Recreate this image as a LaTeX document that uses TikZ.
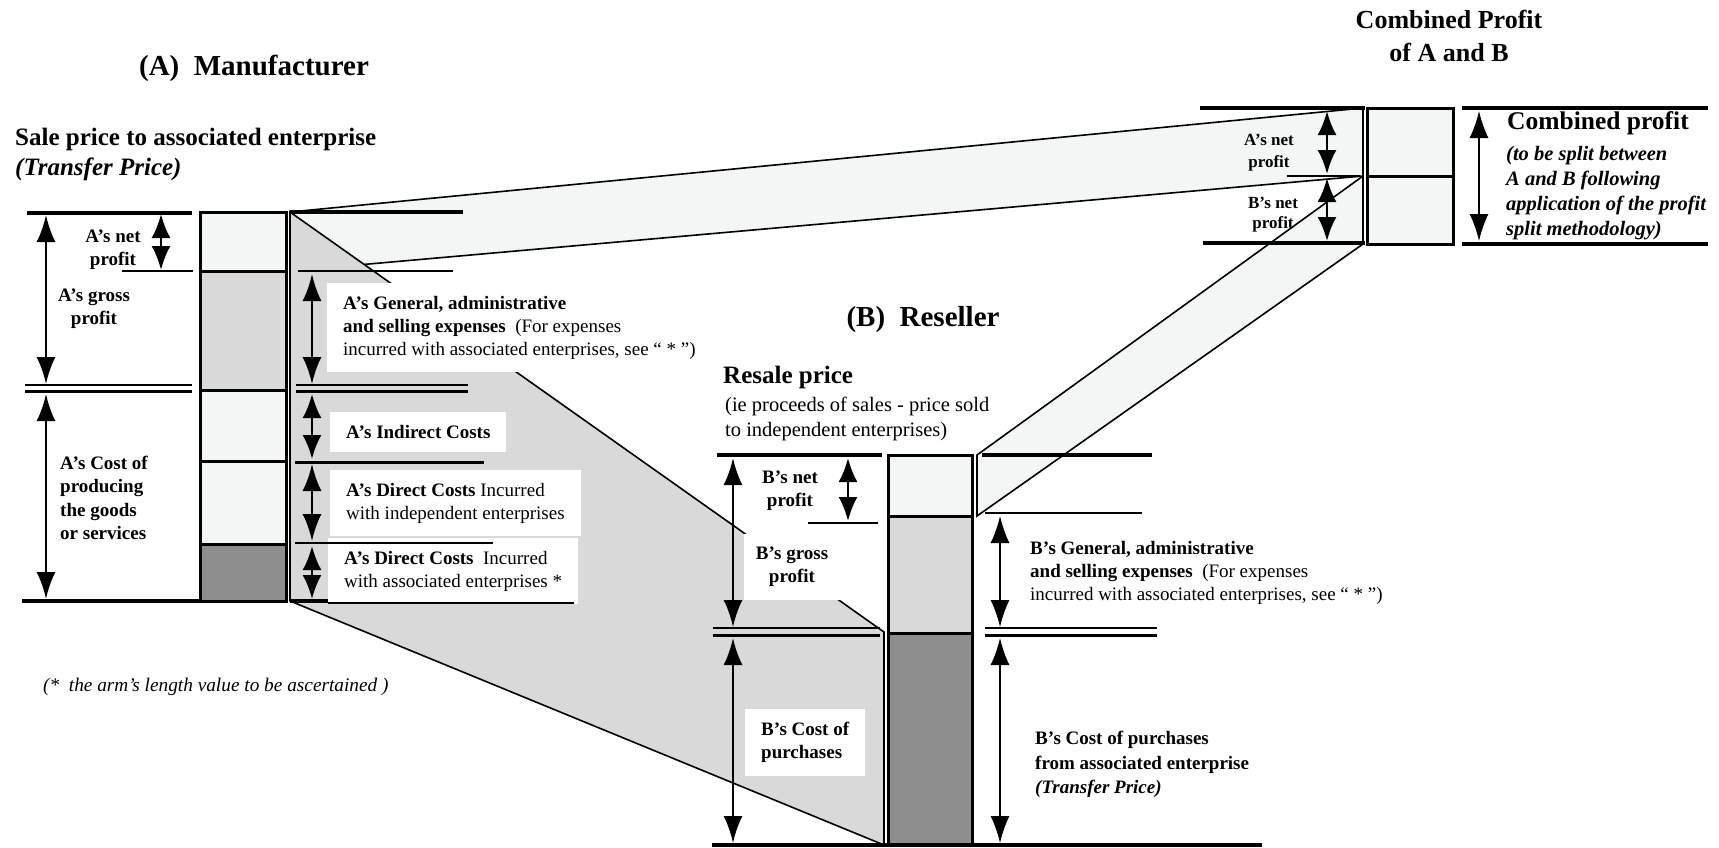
\documentclass[tikz,border=0pt]{standalone}
\usepackage{fontspec}
\setmainfont{Liberation Serif}
\usetikzlibrary{arrows.meta}
\definecolor{pale}{RGB}{244,246,246}
\definecolor{midgray}{RGB}{217,217,217}
\definecolor{deepgray}{RGB}{142,142,142}
\newcommand{\lblfont}{\fontsize{19}{23}\selectfont}

\begin{document}
\begin{tikzpicture}[x=1pt,y=-1pt]
\tikzstyle{every node}=[font=\lblfont, inner sep=0pt]
\tikzstyle{thk}=[line width=4.5pt]
\tikzstyle{med}=[line width=3pt]
\tikzstyle{thn}=[line width=2pt]
\tikzstyle{edge}=[line width=1.6pt]
\tikzstyle{dim}=[line width=2.6pt,{Latex[length=27pt,width=19pt]}-{Latex[length=27pt,width=19pt]}]
\tikzstyle{dimshort}=[line width=2.6pt,{Latex[length=24pt,width=19pt]}-{Latex[length=24pt,width=19pt]}]
\tikzstyle{dimthin}=[dim,line width=1.8pt]
\tikzstyle{box}=[fill=white,inner xsep=16pt,inner ysep=13pt,align=left,anchor=north west]
\tikzstyle{txt}=[align=left,anchor=north west]
\tikzstyle{ttl}=[font=\fontsize{29}{33}\selectfont\bfseries]

\useasboundingbox (0,0) rectangle (1719,847);

% profit bands and the transfer price wedge
\filldraw[fill=pale,edge] (290,212) -- (1363,108) -- (1363,176) -- (290,271) -- cycle;
\filldraw[fill=pale,edge] (977,455) -- (1363,176) -- (1363,244) -- (977,516) -- cycle;
\filldraw[fill=midgray,edge] (290,212) -- (884,632) -- (884,845) -- (290,601) -- cycle;

% the three columns
\foreach \ya/\yb/\col in {212/271/pale,271/390/midgray,390/461/pale,461/544/pale,544/601/deepgray}
  \filldraw[fill=\col,med] (200,\ya) rectangle (286,\yb);
\foreach \ya/\yb/\col in {455/516/pale,516/633/midgray,633/845/deepgray}
  \filldraw[fill=\col,med] (888,\ya) rectangle (972,\yb);
\foreach \ya/\yb in {108/176,176/244}
  \filldraw[fill=pale,med] (1367,\ya) rectangle (1453,\yb);

% (A) manufacturer
\node[ttl] (a_title) at (254,68) {(A)\ \ Manufacturer};
\node[txt,font=\fontsize{25}{30}\selectfont\bfseries] (a_price) at (15,128)
  {Sale price to associated enterprise\\\textit{(Transfer Price)}};
\node[align=center,anchor=north,font=\lblfont\bfseries] (a_net) at (113,230) {A's net\\profit};
\node[align=center,anchor=north,font=\lblfont\bfseries] (a_gross) at (94,289) {A's gross\\profit};
\node[txt,font=\fontsize{19}{23.3}\selectfont\bfseries] (a_cost) at (60,456)
  {A's Cost of\\producing\\the goods\\or services};
\node[box] (a_gen) at (327,283) {\textbf{A's General, administrative}\\
  \textbf{and selling expenses}\ \ (For expenses\\incurred with associated enterprises, see `` * '')};
\node[box] (a_ind) at (330,412) {\textbf{A's Indirect Costs}};
\node[box] (a_dind) at (330,470) {\textbf{A's Direct Costs} Incurred\\with independent enterprises};
\node[box] (a_dass) at (328,538) {\textbf{A's Direct Costs}\ \ Incurred\\with associated enterprises *};
\node[anchor=west,font=\fontsize{19.3}{23}\selectfont\itshape] (a_note) at (43,687)
  {(*\ \ the arm's length value to be ascertained )};

\draw[thk] (27,213) -- (192,213) (290,212) -- (463,212) (22,601) -- (200,601) (290,601) -- (328,601);
\draw[thn] (122,271) -- (193,271) (298,271) -- (453,271) (295,543) -- (493,543) (328,603) -- (574,603);
\draw[med] (295,462) -- (484,462);
\draw[thn] (25,385) -- (192,385) (296,385) -- (468,385);
\draw[med] (25,391) -- (192,391) (296,391) -- (468,391);

% (B) reseller
\node[ttl] (b_title) at (923,320) {(B)\ \ Reseller};
\node[anchor=west,font=\fontsize{25}{30}\selectfont\bfseries] (b_price) at (723,377) {Resale price};
\node[txt,font=\fontsize{20.5}{25}\selectfont] (b_note) at (725,397) {(ie proceeds of sales - price sold\\to independent enterprises)};
\node[align=center,anchor=north,font=\lblfont\bfseries] (b_net) at (790,471) {B's net\\profit};
\node[box,align=center,anchor=center,inner xsep=12pt,font=\lblfont\bfseries] (b_gross) at (792,567) {B's gross\\profit};
\node[box,font=\lblfont\bfseries] (b_cost) at (745,709) {B's Cost of\\purchases};
\node[txt] (b_gen) at (1030,541) {\textbf{B's General, administrative}\\
  \textbf{and selling expenses}\ \ (For expenses\\incurred with associated enterprises, see `` * '')};
\node[txt,font=\fontsize{19}{24.5}\selectfont\bfseries] (b_buy) at (1035,731)
  {B's Cost of purchases\\from associated enterprise\\\textit{(Transfer Price)}};

\draw[thk] (717,455) -- (882,455) (982,455) -- (1152,455) (712,845) -- (1262,845);
\draw[thn] (808,523) -- (878,523) (985,513) -- (1142,513) (713,628) -- (880,628) (985,628) -- (1157,628);
\draw[med] (713,635) -- (880,635) (985,635) -- (1157,635);

% combined profit
\node[ttl,align=center,font=\fontsize{26}{33}\selectfont\bfseries] (c_title) at (1449,36) {Combined Profit\\of A and B};
\node[align=center,anchor=north,font=\fontsize{17}{22}\selectfont\bfseries] (c_anet) at (1269,134) {A's net\\profit};
\node[align=center,anchor=north,font=\fontsize{17}{20}\selectfont\bfseries] (c_bnet) at (1273,197) {B's net\\profit};
\node[anchor=west,font=\fontsize{25.5}{30}\selectfont\bfseries] (c_sum) at (1507,123) {Combined profit};
\node[txt,font=\fontsize{20.5}{25}\selectfont\bfseries\itshape] (c_split) at (1506,146)
  {(to be split between\\A and B following\\application of the profit\\split methodology)};

\draw[thk] (1200,108) -- (1365,108) (1203,243) -- (1365,243) (1462,108) -- (1708,108) (1462,244) -- (1708,244);
\draw[thn] (1287,176) -- (1360,176);

% dimension arrows
\foreach \n/\x/\ya/\yb in {a1/46/215/384,a2/46/394/599,a4/312/274/384,
    a6/312/464/541,b1/733/458/627,b2/733/638/843}{
  \path (\x,\ya) coordinate (\n_s) (\x,\yb) coordinate (\n_e);
  \draw[dim] (\n_s) -- (\n_e);
}
\foreach \n/\x/\ya/\yb in {a3/161/214/270,a5/312/394/459,a7/312/546/599,b3/848/458/521,c1/1327/111/174,c2/1327/178/241}{
  \path (\x,\ya) coordinate (\n_s) (\x,\yb) coordinate (\n_e);
  \draw[dimshort] (\n_s) -- (\n_e);
}
\foreach \n/\x/\ya/\yb in {b4/1000/516/627,b5/1000/638/843,c3/1479/111/241}{
  \path (\x,\ya) coordinate (\n_s) (\x,\yb) coordinate (\n_e);
  \draw[dimthin] (\n_s) -- (\n_e);
}
\end{tikzpicture}
\end{document}
